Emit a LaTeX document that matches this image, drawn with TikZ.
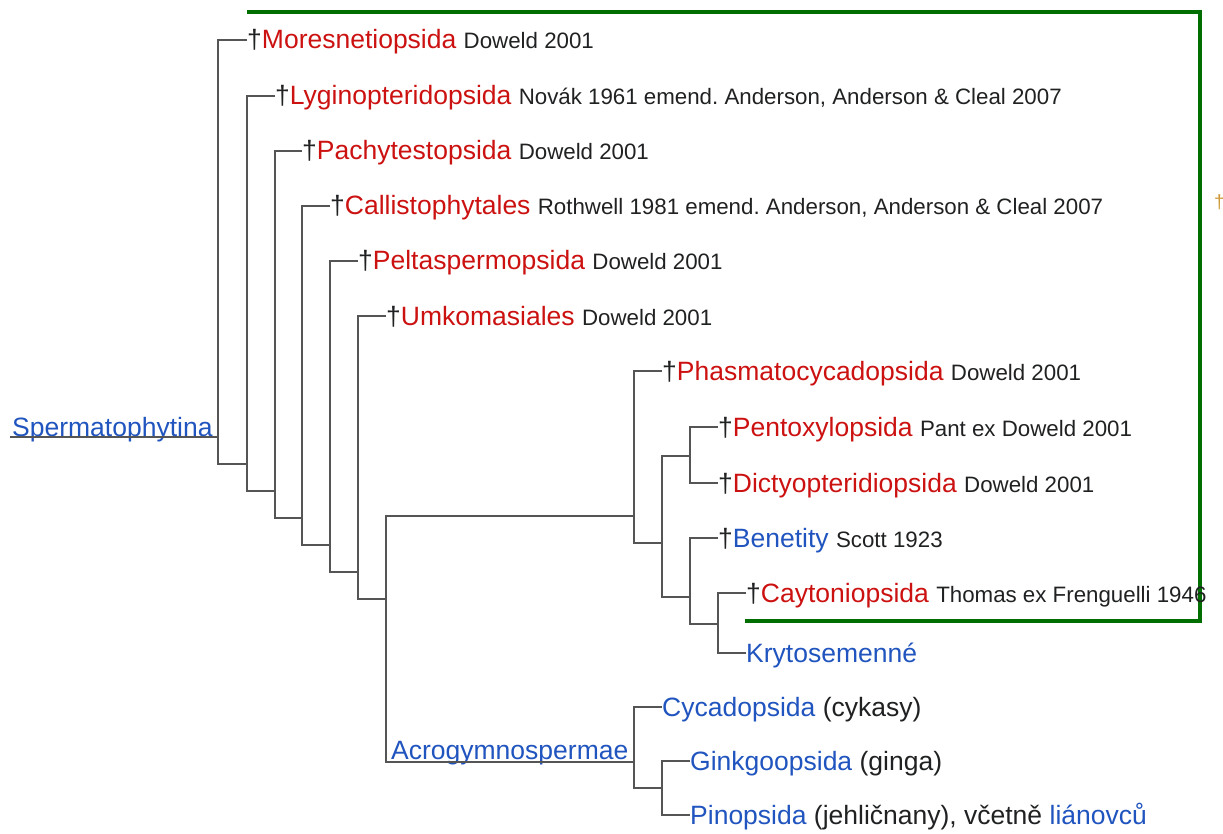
\documentclass[tikz,border=0pt]{standalone}
\usepackage{fontspec}
\setmainfont{Liberation Sans}
\usepackage{tikz}
\frenchspacing

\definecolor{redlink}{RGB}{204,17,17}
\definecolor{bluelink}{RGB}{32,84,190}
\definecolor{plain}{RGB}{32,33,34}
\definecolor{treegray}{RGB}{85,85,85}
\definecolor{boxgreen}{RGB}{0,110,0}
\definecolor{cutdagger}{RGB}{205,150,50}

\newcommand{\namesize}{\fontsize{26.5pt}{30pt}\selectfont}
\newcommand{\authsize}{\fontsize{22.3pt}{26pt}\selectfont}
\newcommand{\fossil}[3][redlink]{\textcolor{plain}{†}\textcolor{#1}{#2} {\authsize\textcolor{plain}{#3}}}

\tikzset{
  branch/.style={draw=treegray, line width=1.3pt},
  leaf/.style={anchor=west, inner sep=0pt, text height=24pt, text depth=6pt, font=\namesize},
  cladename/.style={anchor=base west, inner sep=0pt, font=\namesize, text=bluelink},
  greenbox/.style={draw=boxgreen, line width=4pt, line join=miter}
}

\begin{document}
\begin{tikzpicture}[x=1pt, y=-1pt]

\useasboundingbox (0,0) rectangle (1223,834);

% extinct lines framed in green
\draw[greenbox] (247,12) -- (1200,12) -- (1200,621) -- (745,621);
\node[anchor=base west, inner sep=0pt, font=\fontsize{19pt}{22pt}\selectfont, text=cutdagger] (cut) at (1214,209) {†};

% leaves
\node[leaf] (mor) at (247,40) {\fossil{Moresnetiopsida}{Doweld 2001}};
\node[leaf] (lyg) at (275,96) {\fossil{Lyginopteridopsida}{Novák 1961 emend. Anderson, Anderson \& Cleal 2007}};
\node[leaf] (pac) at (302,151) {\fossil{Pachytestopsida}{Doweld 2001}};
\node[leaf] (cal) at (330,206) {\fossil{Callistophytales}{Rothwell 1981 emend. Anderson, Anderson \& Cleal 2007}};
\node[leaf] (pel) at (358,261) {\fossil{Peltaspermopsida}{Doweld 2001}};
\node[leaf] (umk) at (386,316) {\fossil{Umkomasiales}{Doweld 2001}};
\node[leaf] (pha) at (662,371) {\fossil{Phasmatocycadopsida}{Doweld 2001}};
\node[leaf] (pen) at (718,427) {\fossil{Pentoxylopsida}{Pant ex Doweld 2001}};
\node[leaf] (dic) at (718,483) {\fossil{Dictyopteridiopsida}{Doweld 2001}};
\node[leaf] (ben) at (718,538) {\fossil[bluelink]{Benetity}{Scott 1923}};
\node[leaf] (cay) at (746,593) {\fossil{Caytoniopsida}{Thomas ex Frenguelli 1946}};
\node[leaf] (kry) at (746,653) {\textcolor{bluelink}{Krytosemenné}};
\node[leaf] (cyc) at (662,707) {\textcolor{bluelink}{Cycadopsida} \textcolor{plain}{(cykasy)}};
\node[leaf] (gin) at (690,761) {\textcolor{bluelink}{Ginkgoopsida} \textcolor{plain}{(ginga)}};
\node[leaf] (pin) at (690,815) {\textcolor{bluelink}{Pinopsida} \textcolor{plain}{(jehličnany), včetně} \textcolor{bluelink}{liánovců}};

% clade labels
\node[cladename] (sperm) at (12,436) {Spermatophytina};
\node[cladename] (acro) at (391,759) {Acrogymnospermae};

% junctions
\coordinate (rootin) at (10,437);
\coordinate (root) at (218,437);
\coordinate (j1) at (247,464);
\coordinate (j2) at (275,491);
\coordinate (j3) at (302,518);
\coordinate (j4) at (330,545);
\coordinate (j5) at (358,572);
\coordinate (j6) at (386,599);
\coordinate (j7) at (634,516);
\coordinate (j8) at (634,762);
\coordinate (j9) at (662,543);
\coordinate (j10) at (690,456);
\coordinate (j11) at (690,597);
\coordinate (j12) at (718,624);
\coordinate (j13) at (662,788);

\draw[branch] (rootin) -- (root);
\draw[branch] (mor.west) -| (root) |- (j1);
\draw[branch] (lyg.west) -| (j1) |- (j2);
\draw[branch] (pac.west) -| (j2) |- (j3);
\draw[branch] (cal.west) -| (j3) |- (j4);
\draw[branch] (pel.west) -| (j4) |- (j5);
\draw[branch] (umk.west) -| (j5) |- (j6);
\draw[branch] (j7) -| (j6) |- (j8);
\draw[branch] (pha.west) -| (j7) |- (j9);
\draw[branch] (j10) -| (j9) |- (j11);
\draw[branch] (pen.west) -| (j10) |- (dic.west);
\draw[branch] (ben.west) -| (j11) |- (j12);
\draw[branch] (cay.west) -| (j12) |- (kry.west);
\draw[branch] (cyc.west) -| (j8) |- (j13);
\draw[branch] (gin.west) -| (j13) |- (pin.west);

\end{tikzpicture}
\end{document}
